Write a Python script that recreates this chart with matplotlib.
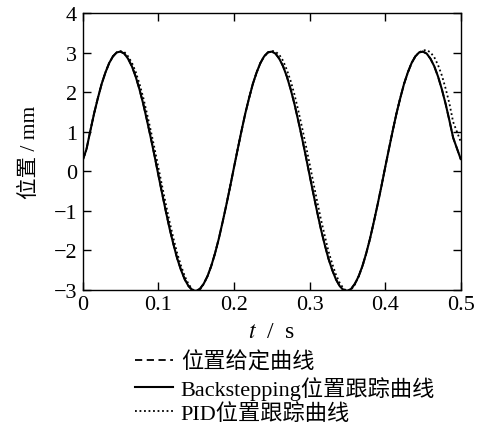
import matplotlib
matplotlib.use("Agg")
import matplotlib.pyplot as plt

plt.rcParams['font.family'] = ['Liberation Serif', 'Noto Sans CJK SC']
plt.rcParams['mathtext.fontset'] = 'stix'

# time samples (s)
t = [0.000, 0.005, 0.010, 0.015, 0.020, 0.025, 0.030, 0.035, 0.040, 0.045,
     0.050, 0.055, 0.060, 0.065, 0.070, 0.075, 0.080, 0.085, 0.090, 0.095,
     0.100, 0.105, 0.110, 0.115, 0.120, 0.125, 0.130, 0.135, 0.140, 0.145,
     0.150, 0.155, 0.160, 0.165, 0.170, 0.175, 0.180, 0.185, 0.190, 0.195,
     0.200, 0.205, 0.210, 0.215, 0.220, 0.225, 0.230, 0.235, 0.240, 0.245,
     0.250, 0.255, 0.260, 0.265, 0.270, 0.275, 0.280, 0.285, 0.290, 0.295,
     0.300, 0.305, 0.310, 0.315, 0.320, 0.325, 0.330, 0.335, 0.340, 0.345,
     0.350, 0.355, 0.360, 0.365, 0.370, 0.375, 0.380, 0.385, 0.390, 0.395,
     0.400, 0.405, 0.410, 0.415, 0.420, 0.425, 0.430, 0.435, 0.440, 0.445,
     0.450, 0.455, 0.460, 0.465, 0.470, 0.475, 0.480, 0.485, 0.490, 0.495,
     0.500]

# backstepping tracking (mm)
bs = [0.28, 0.56, 1.02, 1.46, 1.85, 2.21, 2.50, 2.74, 2.91, 3.01,
      3.03, 2.98, 2.85, 2.66, 2.40, 2.08, 1.71, 1.29, 0.85, 0.39,
      -0.09, -0.56, -1.02, -1.46, -1.85, -2.21, -2.50, -2.74, -2.91, -3.01,
      -3.03, -2.98, -2.85, -2.66, -2.40, -2.08, -1.71, -1.29, -0.85, -0.39,
      0.09, 0.56, 1.02, 1.46, 1.85, 2.21, 2.50, 2.74, 2.91, 3.01,
      3.03, 2.98, 2.85, 2.66, 2.40, 2.08, 1.71, 1.29, 0.85, 0.39,
      -0.09, -0.56, -1.02, -1.46, -1.85, -2.21, -2.50, -2.74, -2.91, -3.01,
      -3.03, -2.98, -2.85, -2.66, -2.40, -2.08, -1.71, -1.29, -0.85, -0.39,
      0.09, 0.56, 1.02, 1.46, 1.85, 2.21, 2.50, 2.74, 2.91, 3.01,
      3.03, 2.98, 2.85, 2.66, 2.40, 2.08, 1.71, 1.29, 0.85, 0.58,
      0.31]

# reference position (mm) - coincides with the backstepping curve
ref = list(bs)

# PID tracking (mm)
pid = [0.28, 0.56, 1.02, 1.46, 1.85, 2.21, 2.50, 2.74, 2.91, 3.01,
       3.04, 3.02, 2.91, 2.75, 2.52, 2.22, 1.87, 1.46, 1.03, 0.58,
       0.10, -0.37, -0.84, -1.29, -1.70, -2.08, -2.39, -2.66, -2.86, -2.99,
       -3.04, -3.00, -2.86, -2.66, -2.40, -2.08, -1.71, -1.29, -0.85, -0.39,
       0.09, 0.56, 1.02, 1.46, 1.85, 2.21, 2.50, 2.74, 2.91, 3.01,
       3.05, 3.03, 2.95, 2.80, 2.57, 2.29, 1.95, 1.55, 1.12, 0.67,
       0.20, -0.28, -0.75, -1.21, -1.62, -2.02, -2.34, -2.62, -2.83, -2.97,
       -3.04, -3.00, -2.87, -2.66, -2.41, -2.08, -1.71, -1.29, -0.85, -0.39,
       0.09, 0.56, 1.02, 1.46, 1.85, 2.21, 2.50, 2.74, 2.91, 3.01,
       3.06, 3.07, 3.01, 2.89, 2.69, 2.43, 2.10, 1.72, 1.25, 1.00,
       0.75]

xticks = [0, 0.1, 0.2, 0.3, 0.4, 0.5]
xticklabels = ['0', '0.1', '0.2', '0.3', '0.4', '0.5']
yticks = [-3, -2, -1, 0, 1, 2, 3, 4]

labels = ['位置给定曲线', 'Backstepping位置跟踪曲线', 'PID位置跟踪曲线']

fig = plt.figure(figsize=(4.79, 4.35), dpi=100)
ax = fig.add_axes([0.1727, 0.3317, 0.7891, 0.6354])

l1, = ax.plot(t, ref, color='black', lw=1.3, linestyle=(0, (4, 2.5)))
l2, = ax.plot(t, bs, color='black', lw=1.5, linestyle='-')
l3, = ax.plot(t, pid, color='black', lw=1.3, linestyle=(0, (1, 1.5)))

ax.set_xlim(0, 0.5)
ax.set_ylim(-3, 4)
ax.set_xticks(xticks)
ax.set_xticklabels(xticklabels)
ax.set_yticks(yticks)
ax.tick_params(direction='in', length=5.5, width=1, top=True, right=True,
               labelsize=16, pad=4)
for s in ax.spines.values():
    s.set_linewidth(1.0)

ax.set_xlabel('$t$  /  s', fontsize=17, labelpad=5)
ax.set_ylabel('位置 / mm', fontsize=15.5, labelpad=10)

fig.legend([l1, l2, l3], labels, loc='upper left',
           bbox_to_anchor=(0.2818, 0.19), frameon=False, fontsize=16,
           handlelength=1.7, handletextpad=0.36, labelspacing=0.15,
           borderpad=0, borderaxespad=0)

fig.savefig('out.png', dpi=100)
